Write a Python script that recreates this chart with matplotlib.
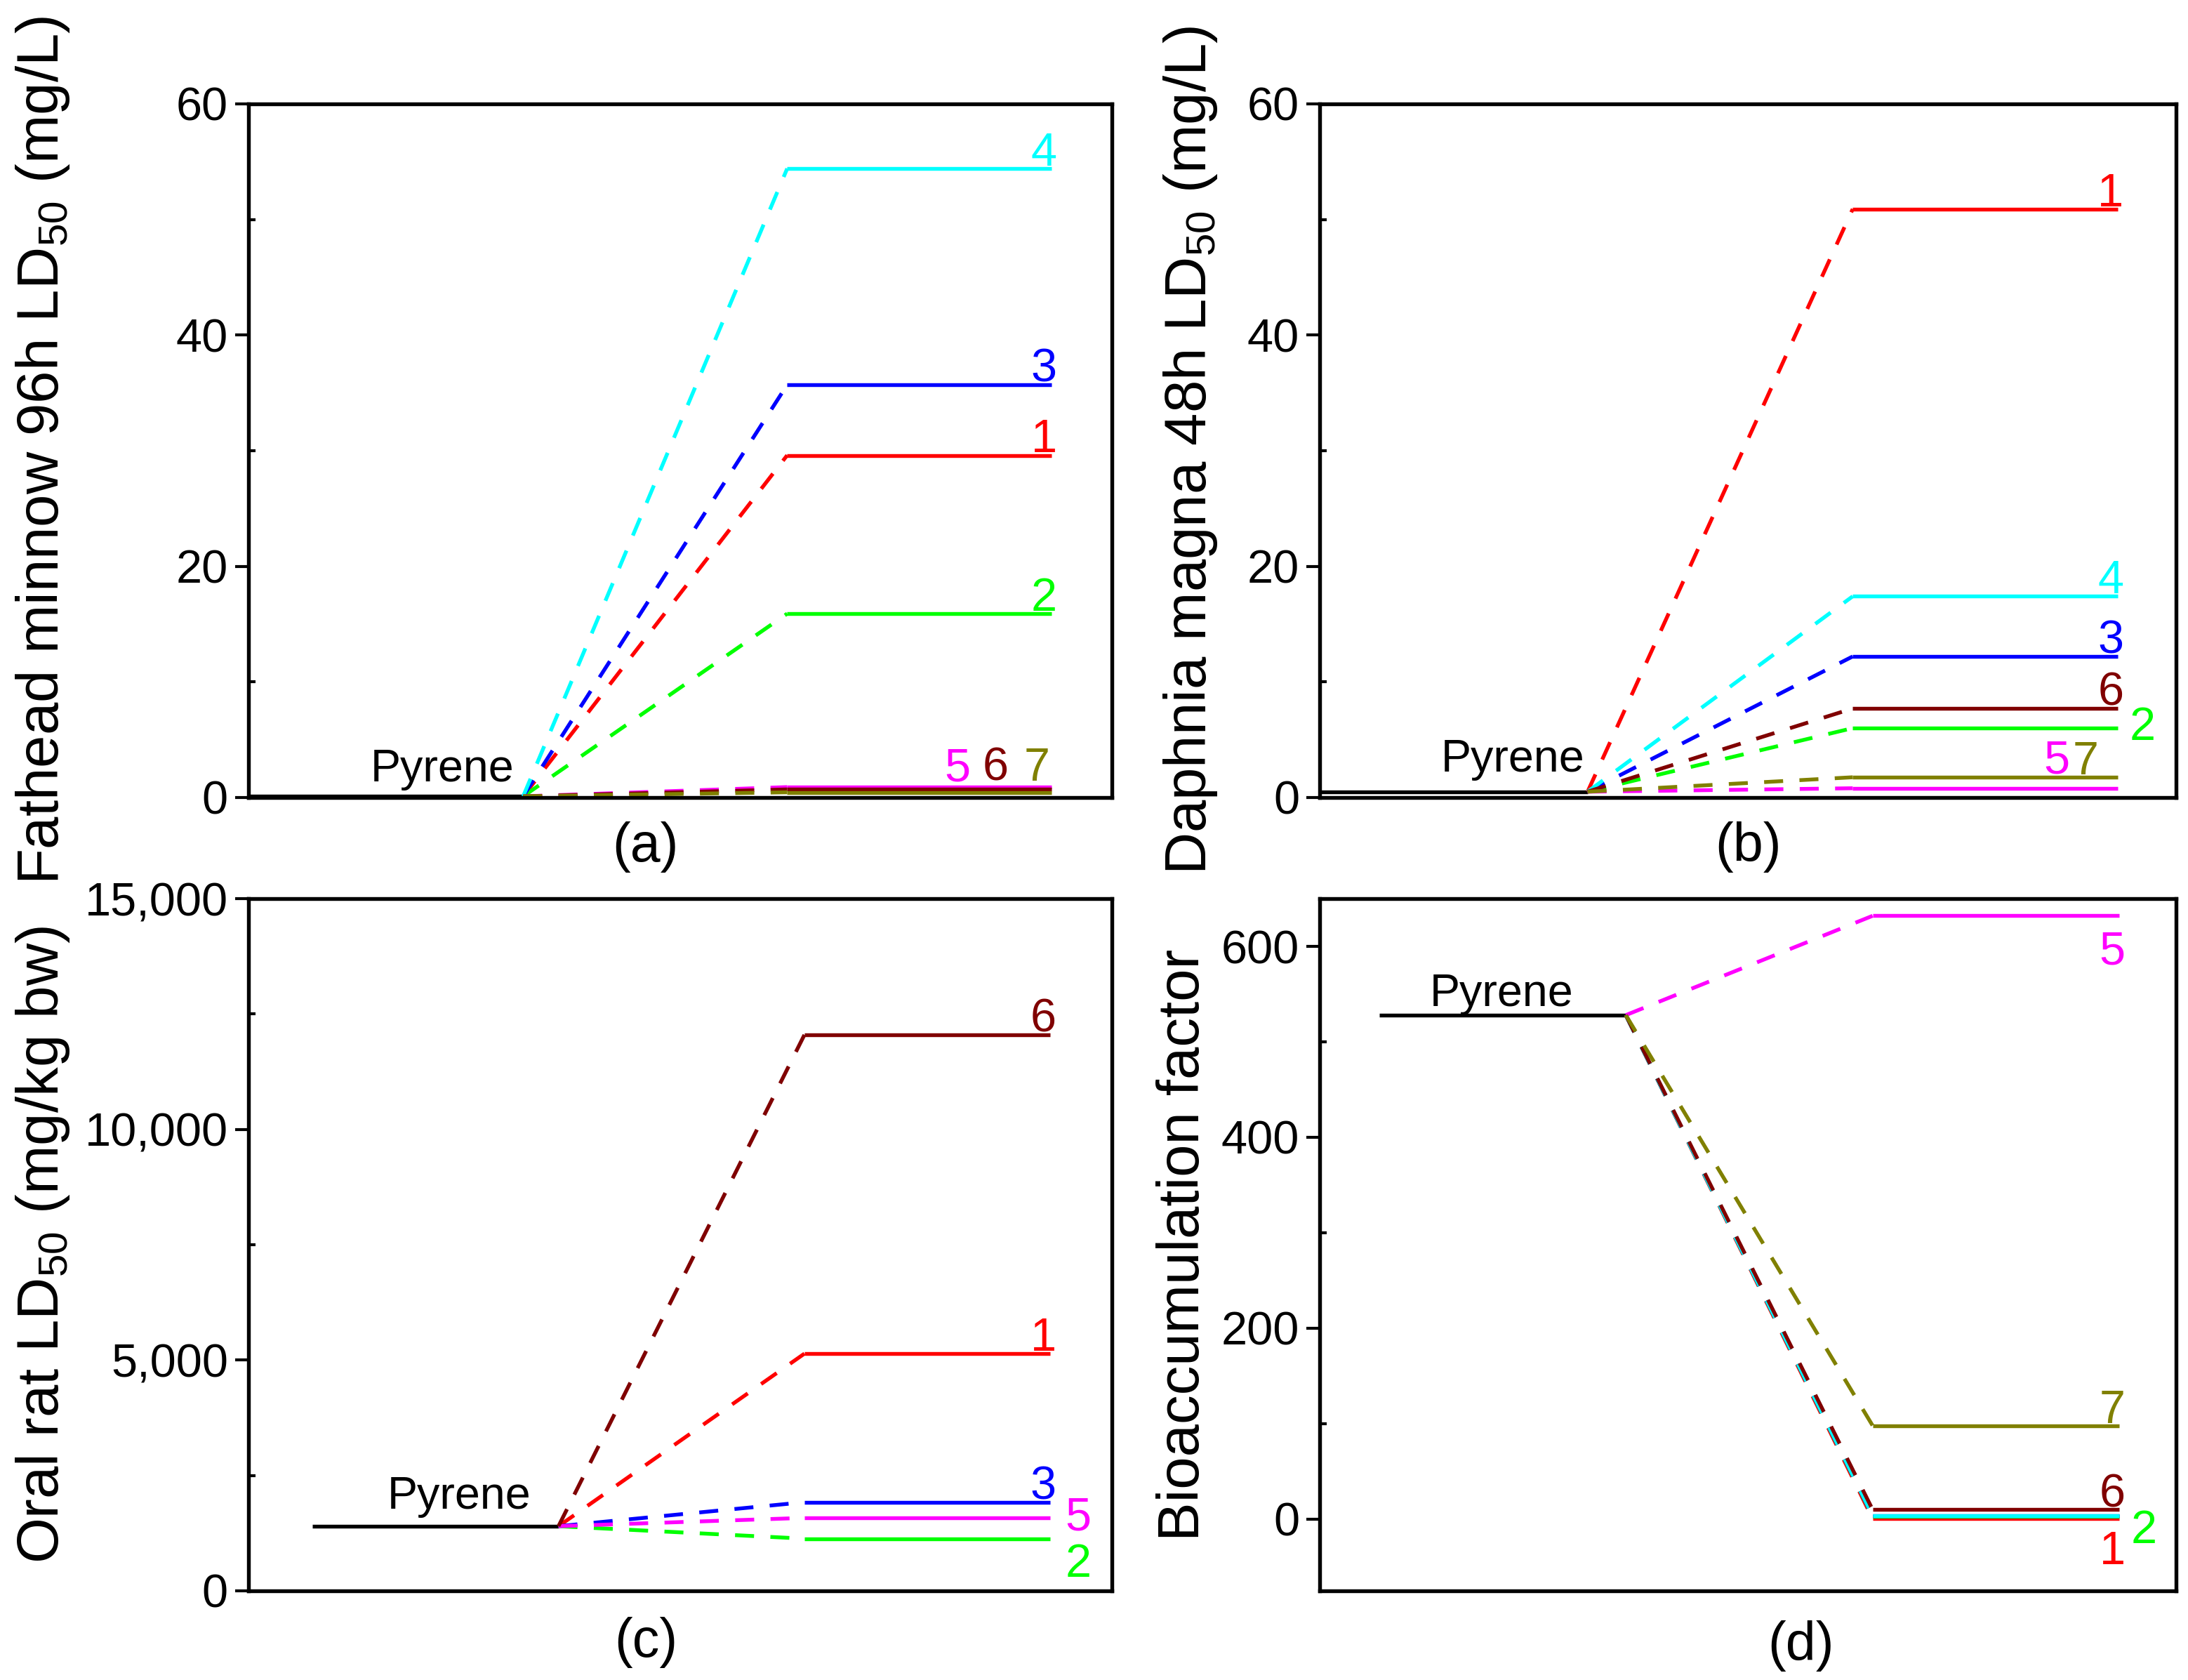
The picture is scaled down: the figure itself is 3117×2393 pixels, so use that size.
import matplotlib
matplotlib.use("Agg")
import matplotlib.pyplot as plt
from matplotlib.ticker import MultipleLocator, FuncFormatter

plt.rcParams['font.family'] = ['Liberation Sans', 'DejaVu Sans']
plt.rcParams['mathtext.fontset'] = 'custom'
plt.rcParams['mathtext.rm'] = 'Liberation Sans'
plt.rcParams['mathtext.it'] = 'Liberation Sans:italic'

# compounds 1..7 (None = not shown in that panel)
compound_ids = ['1', '2', '3', '4', '5', '6', '7']
compound_colors = ['#FF0000', '#00FF00', '#0000FF', '#00FFFF', '#FF00FF', '#800000', '#808000']

fathead_pyrene = 0.1
fathead_minnow = [29.6, 15.9, 35.7, 54.4, 0.9, 0.7, 0.45]

daphnia_pyrene = 0.5
daphnia_magna = [50.9, 6.0, 12.2, 17.4, 0.8, 7.7, 1.75]

oral_rat_pyrene = 1400
oral_rat = [5140, 1130, 1920, None, 1580, 12050, None]

baf_pyrene = 528
bioaccumulation = [0.5, 3.0, 3.5, 4.0, 632, 10, 98]

# label placement per panel: compound -> (dx, dy, ha, va) in points from line end
labels_a = {'4': (2, 1, 'right', 'baseline'), '3': (2, 1, 'right', 'baseline'),
            '1': (2, 1, 'right', 'baseline'), '2': (2, 1, 'right', 'baseline'),
            '5': (-32, 2, 'center', 'baseline'), '6': (-19, 3, 'center', 'baseline'),
            '7': (-5, 4, 'center', 'baseline')}
labels_b = {'1': (2, 1, 'right', 'baseline'), '4': (2, 1, 'right', 'baseline'),
            '3': (2, 1, 'right', 'baseline'), '6': (2, 1, 'right', 'baseline'),
            '2': (4, 0, 'left', 'center'), '5': (-21, 5, 'center', 'baseline'),
            '7': (-11, 1, 'center', 'baseline')}
labels_c = {'6': (2, 1, 'right', 'baseline'), '1': (2, 1, 'right', 'baseline'),
            '3': (2, 1, 'right', 'baseline'), '5': (5, 0, 'left', 'center'),
            '2': (5, -9, 'left', 'center')}
labels_d = {'5': (2, -5, 'right', 'top'), '7': (2, 1, 'right', 'baseline'),
            '6': (2, 1, 'right', 'baseline'), '2': (4, -5, 'left', 'center'),
            '1': (2, -4, 'right', 'top')}


def draw_panel(ax, pyrene, values, labels, x0, xlim, pyrene_off):
    ax.plot([x0, 1], [pyrene, pyrene], color='black', lw=1.3, solid_capstyle='butt')
    for cid, col, v in zip(compound_ids, compound_colors, values):
        if v is None:
            continue
        ax.plot([1, 2], [pyrene, v], color=col, lw=1.3, linestyle=(0, (5, 4.3)))
        ax.plot([2, 3], [v, v], color=col, lw=1.3, solid_capstyle='butt')
        if cid in labels:
            dx, dy, ha, va = labels[cid]
            ax.annotate(cid, xy=(3, v), xytext=(dx, dy), textcoords='offset points',
                        ha=ha, va=va, color=col, fontsize=16)
    ax.annotate('Pyrene', xy=(1, pyrene), xytext=pyrene_off, textcoords='offset points',
                ha='right', va='baseline', fontsize=15.5)
    ax.set_xlim(*xlim)
    ax.set_xticks([])
    for s in ax.spines.values():
        s.set_linewidth(1.3)
    ax.tick_params(axis='y', which='major', direction='out', length=4.5, width=1.0,
                   labelsize=16, pad=2.5)
    ax.tick_params(axis='y', which='minor', direction='in', length=2.5, width=1.0)


fig = plt.figure(figsize=(3117 / 300, 2393 / 300), dpi=300)
ax_a = fig.add_axes([0.1136, 0.5253, 0.3946, 0.4129])
ax_b = fig.add_axes([0.6032, 0.5253, 0.3914, 0.4129])
ax_c = fig.add_axes([0.1136, 0.0531, 0.3946, 0.4120])
ax_d = fig.add_axes([0.6032, 0.0531, 0.3914, 0.4120])

draw_panel(ax_a, fathead_pyrene, fathead_minnow, labels_a, -1, (-0.04, 3.23), (-3, 5))
ax_a.set_ylim(0, 60)
ax_a.yaxis.set_major_locator(MultipleLocator(20))
ax_a.yaxis.set_minor_locator(MultipleLocator(10))

draw_panel(ax_b, daphnia_pyrene, daphnia_magna, labels_b, -1, (-0.01, 3.22), (-1, 7))
ax_b.set_ylim(0, 60)
ax_b.yaxis.set_major_locator(MultipleLocator(20))
ax_b.yaxis.set_minor_locator(MultipleLocator(10))

draw_panel(ax_c, oral_rat_pyrene, oral_rat, labels_c, 0, (-0.26, 3.25), (-9.5, 6))
ax_c.set_ylim(0, 15000)
ax_c.yaxis.set_major_locator(MultipleLocator(5000))
ax_c.yaxis.set_minor_locator(MultipleLocator(2500))
ax_c.yaxis.set_major_formatter(FuncFormatter(lambda v, p: f'{int(v):,}'))

draw_panel(ax_d, baf_pyrene, bioaccumulation, labels_d, 0, (-0.24, 3.23), (-18, 3))
ax_d.set_ylim(-75, 650)
ax_d.yaxis.set_major_locator(MultipleLocator(200))
ax_d.yaxis.set_minor_locator(MultipleLocator(100))

# y axis titles
fig.text(0.0195, 0.7320, r'Fathead minnow 96h LD$_{\mathregular{50}}$ (mg/L)',
         rotation=90, ha='center', va='center', fontsize=20)
fig.text(0.5440, 0.7320, r'Daphnia magna 48h LD$_{\mathregular{50}}$ (mg/L)',
         rotation=90, ha='center', va='center', fontsize=20)
fig.text(0.0195, 0.2590, r'Oral rat LD$_{\mathregular{50}}$ (mg/kg bw)',
         rotation=90, ha='center', va='center', fontsize=20)
fig.text(0.5410, 0.2590, 'Bioaccumulation factor',
         rotation=90, ha='center', va='center', fontsize=20)

# panel tags
ax_a.text(0.46, -0.071, '(a)', transform=ax_a.transAxes, ha='center', va='center', fontsize=18.5)
ax_b.text(0.50, -0.071, '(b)', transform=ax_b.transAxes, ha='center', va='center', fontsize=18.5)
ax_c.text(0.46, -0.075, '(c)', transform=ax_c.transAxes, ha='center', va='center', fontsize=18.5)
ax_d.text(0.562, -0.080, '(d)', transform=ax_d.transAxes, ha='center', va='center', fontsize=18.5)

fig.savefig('out.png', dpi=300)
